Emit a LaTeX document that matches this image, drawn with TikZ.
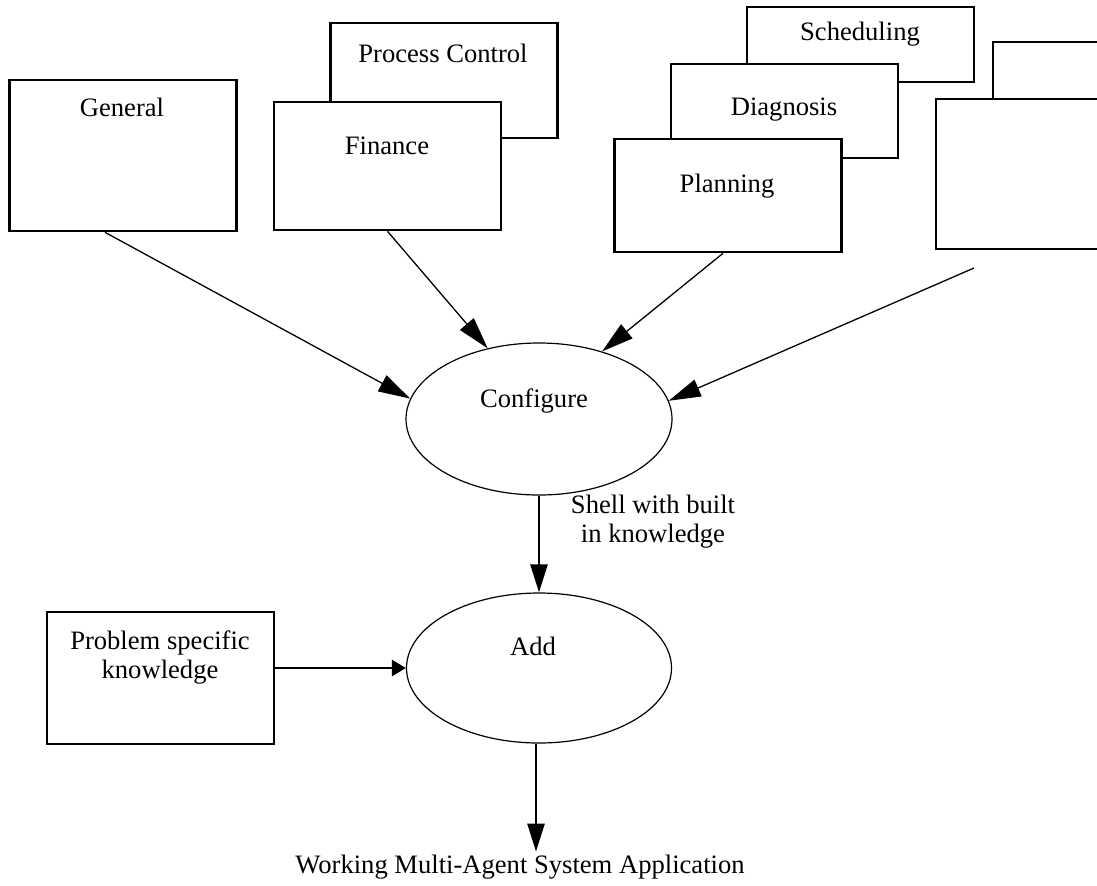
\documentclass[tikz,border=0pt]{standalone}
\usepackage{fontspec}
\setmainfont{Liberation Serif}
\usepackage{tikz}
\usetikzlibrary{arrows.meta}
\usetikzlibrary{shapes.geometric}
\usetikzlibrary{positioning}
\tikzset{box/.style = {draw, fill = white, line width = 1.3pt, inner sep = 0, minimum width = 113.5pt}}
\tikzset{oval/.style = {draw, ellipse, line width = 0.6pt, inner sep = 0}}
\tikzset{title/.style = {inner sep = 1pt, text height = 0.7em, text depth = 0.2em}}
\tikzset{note/.style = {inner sep = 1pt, align = center}}
\tikzset{feed/.style = {line width = 0.65pt, -{Triangle[length = 16pt, width = 9pt]}}}
\tikzset{flow/.style = {line width = 1.3pt, -{Triangle[length = 14pt, width = 8.5pt]}}}

\begin{document}
\begin{tikzpicture}[x = 0.5pt, y = -0.5pt, font = \fontsize{13.3}{14.5}\selectfont]
    \clip (0, 0) rectangle (1097, 885);

    \node [box, minimum height = 75.5pt] (general) at (123, 155.5) {};
    \node [title] (generaltxt) at (122, 111) {General};

    \node [box, minimum height = 57.5pt] (proc) at (444, 80.5) {};
    \node [title] (proctxt) at (443, 57) {Process Control};
    \node [box, minimum height = 64pt] (finance) at (387.5, 166) {};
    \node [title] (financetxt) at (387, 149) {Finance};

    \node [box, minimum height = 37.5pt] (sched) at (860.5, 44.5) {};
    \node [title] (schedtxt) at (860, 35) {Scheduling};
    \node [box, minimum height = 47pt] (diag) at (784.5, 111) {};
    \node [title] (diagtxt) at (784, 110) {Diagnosis};
    \node [box, minimum height = 56.5pt] (plan) at (728, 195.5) {};
    \node [title] (plantxt) at (727, 187) {Planning};

    \node [box, minimum height = 75.5pt] (rightback) at (1106.5, 117.5) {};
    \node [box, minimum height = 75pt] (rightfront) at (1049.5, 174) {};
    \coordinate (rightend) at (974, 268);

    \node [oval, minimum width = 133pt, minimum height = 76pt] (configure) at (539, 419) {};
    \node [title] (configuretxt) at (534, 402) {Configure};

    \node [oval, minimum width = 132.5pt, minimum height = 75pt] (add) at (539, 668) {};
    \node [title] (addtxt) at (533, 650) {Add};

    \node [box, minimum height = 66pt] (problem) at (160.5, 678) {};
    \node [note] (problemtxt) at (160, 657) {Problem specific\\knowledge};

    \node [note] (shell) at (653, 522) {Shell with built\\in knowledge};
    \node [title] (working) at (520, 868) {Working Multi-Agent System Application};

    \draw [feed] ([xshift = -9pt] general.south) -- (configure.171);
    \draw [feed] (finance.south) -- (configure.126);
    \draw [feed] ([xshift = -2.5pt] plan.south) -- (configure.47);
    \draw [feed] (rightend) -- (configure.8);
    \draw [flow] (configure.south) -- (add.north);
    \draw [flow, -{Triangle[length = 7pt, width = 8pt]}] (problem.east |- add.west) -- (add.west);
    \draw [flow, shorten > = 2.5pt] ([xshift = -1.5pt] add.south) -- ([xshift = -1.5pt] add.south |- working.north);
  \end{tikzpicture}
\end{document}
